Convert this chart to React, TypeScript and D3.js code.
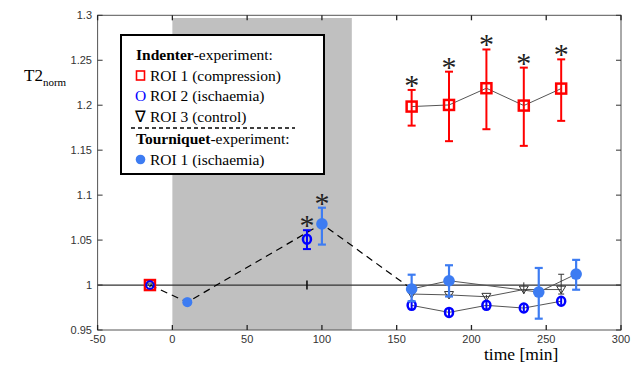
import React from "react";
import * as d3 from "d3";

const xTicks = [-50, 0, 50, 100, 150, 200, 250, 300];
const yTicks = [0.95, 1, 1.05, 1.1, 1.15, 1.2, 1.25, 1.3];
const yTickLabels = ["0.95", "1", "1.05", "1.1", "1.15", "1.2", "1.25", "1.3"];

const ischaemiaStart = 0;
const ischaemiaEnd = 120;

// Indenter ROI 1 (compression)
const roi1Time = [160, 185, 210, 235, 260];
const roi1Mean = [1.1985, 1.2003, 1.2189, 1.1996, 1.2185];
const roi1Lo = [1.1773, 1.16, 1.1733, 1.1548, 1.1826];
const roi1Hi = [1.217, 1.2373, 1.262, 1.2418, 1.251];
const roi1Star = [true, true, true, true, true];

// Indenter ROI 2 (ischaemia)
const roi2Time = [90, 160, 185, 210, 235, 260];
const roi2Mean = [1.051, 0.9774, 0.9696, 0.9774, 0.9744, 0.982];
const roi2Lo = [1.04, 0.973, 0.9656, 0.973, 0.9704, 0.978];
const roi2Hi = [1.061, 0.982, 0.9736, 0.982, 0.9784, 0.986];
const roi2Star = [true, false, false, false, false, false];

// Indenter ROI 3 (control)
const roi3Time = [160, 185, 210, 235, 260];
const roi3Mean = [0.99, 0.989, 0.987, 0.995, 0.995];
const roi3Lo = [0.988, 0.986, 0.985, 0.99, 0.99];
const roi3Hi = [0.992, 0.992, 0.989, 1.003, 1.012];
const roi3TickTime = 90;
const roi3TickLo = 0.995;
const roi3TickHi = 1.005;

// Baseline (all series)
const baseTime = -15;
const baseValue = 1.0;

// Tourniquet ROI 1 (ischaemia)
const tourTime = [10, 100, 160, 185, 245, 270];
const tourMean = [0.981, 1.068, 0.9956, 1.0048, 0.9922, 1.0122];
const tourLo = [0.976, 1.045, 0.982, 0.9873, 0.9626, 0.9948];
const tourHi = [0.986, 1.086, 1.0115, 1.022, 1.019, 1.028];
const tourStar = [false, true, false, false, false, false];

const RED = "#ff0000";
const BLUE = "#0000ff";
const LBLUE = "#3d7cf2";
const GRAY = "#555";

export default function App() {
  const x = d3.scaleLinear().domain([-50, 300]).range([97.6, 621]);
  const y = d3.scaleLinear().domain([0.95, 1.3]).range([330, 15.3]);
  const line = d3
    .line<[number, number]>()
    .x((d) => x(d[0]))
    .y((d) => y(d[1]));

  const zip = (t: number[], v: number[]) => t.map((ti, i) => [ti, v[i]] as [number, number]);

  const errBar = (t: number, lo: number, hi: number, color: string, w: number, cap: number, key: string) => {
    const c = y(lo) - y(hi) < 12 ? 0 : cap;
    return (
      <g key={key} stroke={color} strokeWidth={w}>
        <line x1={x(t)} x2={x(t)} y1={y(lo)} y2={y(hi)} />
        {c > 0 && <line x1={x(t) - c} x2={x(t) + c} y1={y(lo)} y2={y(lo)} />}
        {c > 0 && <line x1={x(t) - c} x2={x(t) + c} y1={y(hi)} y2={y(hi)} />}
      </g>
    );
  };

  const star = (t: number, hi: number, key: string) => (
    <text
      key={key}
      x={x(t)}
      y={y(hi) + 5}
      textAnchor="middle"
      fontFamily="Liberation Serif"
      fontSize={30}
      fill="#222"
    >
      *
    </text>
  );

  const tri = (cx: number, cy: number, s: number) =>
    `M${cx - s},${cy - s * 0.75}L${cx + s},${cy - s * 0.75}L${cx},${cy + s * 0.9}Z`;

  const tourPts = zip(tourTime, tourMean);
  const dashedPts: [number, number][] = [[baseTime, baseValue], ...tourPts.slice(0, 3)];

  return (
    <svg width={632} height={365} style={{ position: "absolute", left: 0, top: 0, background: "#fff" }}>
      {/* ischaemia period */}
      <rect
        x={x(ischaemiaStart)}
        y={y(1.297)}
        width={x(ischaemiaEnd) - x(ischaemiaStart)}
        height={y(0.95) - y(1.297)}
        fill="#c0c0c0"
      />
      {/* reference line */}
      <line x1={x(-50)} x2={x(300)} y1={y(1)} y2={y(1)} stroke="#333" strokeWidth={1.2} />

      {/* frame */}
      <rect x={x(-50)} y={y(1.3)} width={x(300) - x(-50)} height={y(0.95) - y(1.3)} fill="none" stroke="#555" strokeWidth={1} />
      {yTicks.map((v, i) => (
        <g key={"yt" + i}>
          <line x1={x(-50)} x2={x(-50) + 5} y1={y(v)} y2={y(v)} stroke="#333" />
          <line x1={x(300)} x2={x(300) - 5} y1={y(v)} y2={y(v)} stroke="#333" />
          <text x={92} y={y(v) + 4} textAnchor="end" fontFamily="Liberation Sans" fontSize={11} fill="#333">
            {yTickLabels[i]}
          </text>
        </g>
      ))}
      {xTicks.map((v, i) => (
        <g key={"xt" + i}>
          <line x1={x(v)} x2={x(v)} y1={y(0.95)} y2={y(0.95) - 5} stroke="#222" strokeWidth={1.3} />
          <line x1={x(v)} x2={x(v)} y1={y(1.3)} y2={y(1.3) + 5} stroke="#222" strokeWidth={1.3} />
          <text x={x(v)} y={343} textAnchor="middle" fontFamily="Liberation Sans" fontSize={11} fill="#333">
            {v}
          </text>
        </g>
      ))}

      {/* axis titles */}
      <text x={484} y={360} fontFamily="Liberation Serif" fontSize={17.5} fill="#000">
        time [min]
      </text>
      <text x={24} y={81} fontFamily="Liberation Serif" fontSize={17} fill="#000">
        T2
        <tspan fontSize={11} dy={5}>
          norm
        </tspan>
      </text>

      {/* connecting lines */}
      <path d={line(dashedPts) || ""} fill="none" stroke="#000" strokeWidth={1.2} strokeDasharray="7,5" />
      <path d={line(tourPts.slice(2)) || ""} fill="none" stroke={GRAY} strokeWidth={1} />
      <path d={line(zip(roi1Time, roi1Mean)) || ""} fill="none" stroke={GRAY} strokeWidth={1} />
      <path d={line(zip(roi2Time, roi2Mean).slice(1)) || ""} fill="none" stroke={GRAY} strokeWidth={1} />
      <path d={line(zip(roi3Time, roi3Mean)) || ""} fill="none" stroke={GRAY} strokeWidth={1} />

      {/* ROI 3 */}
      {errBar(roi3TickTime, roi3TickLo, roi3TickHi, "#111", 1.6, 0, "r3tick")}
      {roi3Time.map((t, i) => errBar(t, roi3Lo[i], roi3Hi[i], "#333", 1, 3, "r3e" + i))}
      {roi3Time.map((t, i) => (
        <path key={"r3m" + i} d={tri(x(t), y(roi3Mean[i]), 4.5)} fill="none" stroke="#333" strokeWidth={1} />
      ))}

      {/* ROI 2 */}
      {roi2Time.map((t, i) => errBar(t, roi2Lo[i], roi2Hi[i], BLUE, 2, 4, "r2e" + i))}
      {roi2Time.map((t, i) => (
        <ellipse key={"r2m" + i} cx={x(t)} cy={y(roi2Mean[i])} rx={4} ry={4.5} fill="none" stroke={BLUE} strokeWidth={2.5} />
      ))}

      {/* Tourniquet */}
      {tourTime.map((t, i) => errBar(t, tourLo[i], tourHi[i], LBLUE, 2.2, 4, "te" + i))}
      {tourTime.map((t, i) => (
        <circle key={"tm" + i} cx={x(t)} cy={y(tourMean[i])} r={i === 0 ? 5 : 5.8} fill={LBLUE} />
      ))}

      {/* ROI 1 */}
      {roi1Time.map((t, i) => errBar(t, roi1Lo[i], roi1Hi[i], RED, 2, 4, "r1e" + i))}
      {roi1Time.map((t, i) => (
        <rect key={"r1m" + i} x={x(t) - 5} y={y(roi1Mean[i]) - 5} width={10} height={10} fill="none" stroke={RED} strokeWidth={2.5} />
      ))}

      {/* baseline point (all indenter ROIs overlap) */}
      <rect x={x(baseTime) - 5} y={y(baseValue) - 5} width={10} height={10} fill="none" stroke={RED} strokeWidth={2.5} />
      <ellipse cx={x(baseTime)} cy={y(baseValue)} rx={3.8} ry={3.8} fill="none" stroke={BLUE} strokeWidth={2} />
      <path d={tri(x(baseTime), y(baseValue), 2.5)} fill="none" stroke="#222" strokeWidth={0.8} />

      {/* significance stars */}
      {roi1Time.map((t, i) => (roi1Star[i] ? star(t, roi1Hi[i], "s1" + i) : null))}
      {roi2Time.map((t, i) => (roi2Star[i] ? star(t, roi2Hi[i], "s2" + i) : null))}
      {tourTime.map((t, i) => (tourStar[i] ? star(t, tourHi[i], "st" + i) : null))}

      {/* legend */}
      <g fontFamily="Liberation Serif" fontSize={15.5} fill="#000">
        <rect x={121} y={35} width={203} height={139} fill="#fff" stroke="#000" strokeWidth={2} />
        <text x={136} y={60}>
          <tspan fontWeight="bold">Indenter</tspan>-experiment:
        </text>
        <rect x={136.5} y={71} width={8} height={9} fill="none" stroke={RED} strokeWidth={1.6} />
        <text x={150} y={81}>ROI 1 (compression)</text>
        <text x={135} y={101} fill={BLUE}>O</text>
        <text x={150} y={101}>ROI 2 (ischaemia)</text>
        <text x={135} y={122}>∇</text>
        <text x={150} y={122}>ROI 3 (control)</text>
        <line x1={131} x2={295} y1={128} y2={128} stroke="#000" strokeWidth={1.3} strokeDasharray="4,3" />
        <text x={136} y={144}>
          <tspan fontWeight="bold">Tourniquet</tspan>-experiment:
        </text>
        <circle cx={140.5} cy={159.5} r={4.8} fill={LBLUE} />
        <text x={150} y={165}>ROI 1 (ischaemia)</text>
      </g>
    </svg>
  );
}
